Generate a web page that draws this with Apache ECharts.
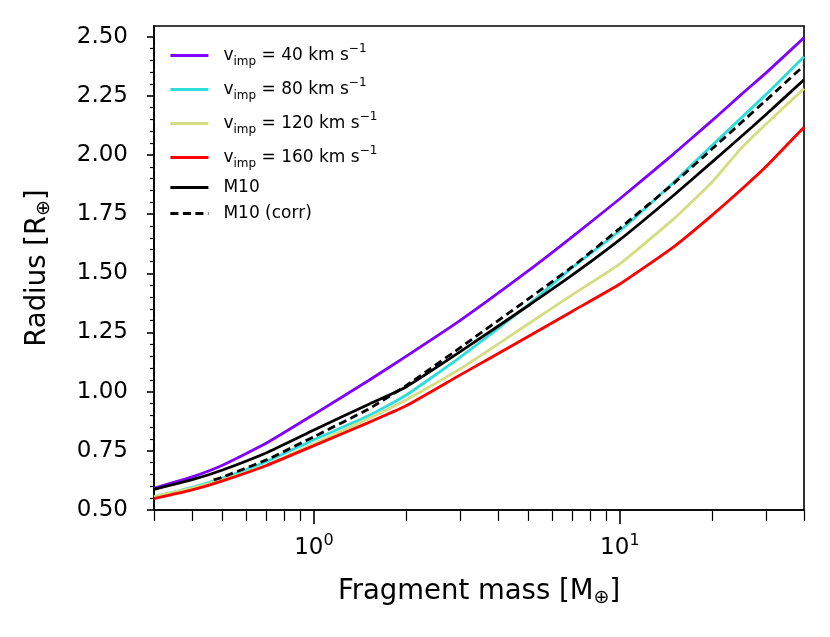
<!DOCTYPE html>
<html>
<head>
<meta charset="utf-8">
<script src="https://cdn.jsdelivr.net/npm/echarts@6.0.0/dist/echarts.min.js"></script>
<style>
  html, body { margin: 0; padding: 0; background: #fff; }
  #main { width: 830px; height: 637px; }
</style>
</head>
<body>
<div id="main"></div>
<script>
// fragment mass [M_earth] where the curves were read
const mass = [0.3, 0.4, 0.5, 0.7, 1, 1.5, 2, 3, 5, 7, 10, 15, 20, 25, 30, 40];
// radius [R_earth] for each impact speed
const radius40 = [0.592, 0.640, 0.688, 0.783, 0.904, 1.045, 1.149, 1.30, 1.509, 1.655, 1.815, 2.005, 2.145, 2.257, 2.346, 2.495];
const radius80 = [0.556, 0.596, 0.634, 0.705, 0.797, 0.897, 0.985, 1.145, 1.365, 1.525, 1.68, 1.885, 2.04, 2.158, 2.255, 2.415];
const radius120 = [0.556, 0.592, 0.627, 0.69, 0.78, 0.885, 0.965, 1.095, 1.285, 1.41, 1.54, 1.73, 1.885, 2.03, 2.13, 2.28];
const radius160 = [0.548, 0.585, 0.622, 0.688, 0.772, 0.868, 0.94, 1.07, 1.232, 1.34, 1.455, 1.612, 1.745, 1.855, 1.95, 2.117];
// M10 relation
const radiusM10 = [0.587, 0.628, 0.668, 0.742, 0.838, 0.945, 1.02, 1.168, 1.362, 1.493, 1.642, 1.83, 1.97, 2.079, 2.17, 2.318];
// M10 (corr) starts a bit later
const corrMass = [0.47, 0.5, 0.7, 1, 1.5, 2, 3, 5, 7, 10, 15, 20, 25, 30, 40];
const radiusM10corr = [0.627, 0.638, 0.712, 0.81, 0.925, 1.025, 1.185, 1.39, 1.528, 1.69, 1.88, 2.025, 2.138, 2.23, 2.378];

const speeds = [40, 80, 120, 160];
const speedColors = ['#8000ff', '#2bdddd', '#d4dd80', '#ff0000'];

// ticks
const majorTickMass = [1, 10];
const minorTickMass = [0.3, 0.4, 0.5, 0.6, 0.7, 0.8, 0.9, 2, 3, 4, 5, 6, 7, 8, 9, 20, 30, 40];
const yTicks = [0.5, 0.75, 1.0, 1.25, 1.5, 1.75, 2.0, 2.25, 2.5];
const yMin = 0.5, yMax = 2.545;
const xMin = 0.3, xMax = 40;

// minor y ticks every 0.05 between the labelled ones
const yMinorTicks = [];
for (let i = 0; i < yTicks.length - 1; i++) {
  for (let k = 1; k < 5; k++) yMinorTicks.push(+(yTicks[i] + k * 0.05).toFixed(2));
}

const FONT = 'DejaVu Sans';
const LW = 2.8;
const pairs = (xs, ys) => xs.map((x, i) => [x, ys[i]]);

const legendText = {
  M10: 'M10',
  M10corr: 'M10 (corr)'
};
speeds.forEach(s => {
  legendText['v' + s] = '{n|v}{sub|imp}{n| = ' + s + ' km s}{sup|\u22121}';
});

const series = speeds.map((s, i) => ({
  name: 'v' + s,
  type: 'line',
  data: pairs(mass, [radius40, radius80, radius120, radius160][i]),
  symbol: 'none',
  smooth: 0.15,
  lineStyle: { color: speedColors[i], width: LW },
  itemStyle: { color: speedColors[i] }
}));
series.push({
  name: 'M10',
  type: 'line',
  data: pairs(mass, radiusM10),
  symbol: 'none',
  smooth: 0.15,
  lineStyle: { color: '#000', width: LW },
  itemStyle: { color: '#000' }
});
series.push({
  name: 'M10corr',
  type: 'line',
  data: pairs(corrMass, radiusM10corr),
  symbol: 'none',
  smooth: 0.15,
  lineStyle: { color: '#000', width: LW, type: [8, 4.5] },
  itemStyle: { color: '#000' }
});

// helper log axes only carrying tick marks
function tickAxisX(values, len, width) {
  return {
    type: 'log',
    logBase: 10,
    min: xMin, max: xMax,
    position: 'bottom', offset: 0,
    axisLine: { show: false, onZero: false },
    axisLabel: { show: false },
    splitLine: { show: false },
    axisTick: { show: true, length: len, customValues: values, lineStyle: { color: '#000', width: width } }
  };
}

const chart = echarts.init(document.getElementById('main'));

chart.setOption({
  animation: false,
  backgroundColor: '#fff',
  textStyle: { fontFamily: FONT },
  grid: {
    left: 154, right: 26, top: 26, bottom: 127,
    show: true, borderColor: '#000', borderWidth: 1.6, backgroundColor: 'transparent'
  },
  legend: {
    orient: 'vertical',
    left: 164,
    top: 38,
    itemWidth: 38,
    itemHeight: 14,
    itemGap: 9,
    data: ['v40', 'v80', 'v120', 'v160', 'M10', 'M10corr'],
    formatter: name => legendText[name],
    itemStyle: { opacity: 0 },
    lineStyle: { width: LW },
    textStyle: {
      fontFamily: FONT,
      fontSize: 17,
      lineHeight: 14,
      color: '#000',
      padding: [0, 0, 0, 10],
      rich: {
        n: { fontFamily: FONT, fontSize: 17, lineHeight: 25, color: '#000' },
        sub: { fontFamily: FONT, fontSize: 12, lineHeight: 14, verticalAlign: 'bottom', color: '#000' },
        sup: { fontFamily: FONT, fontSize: 12, lineHeight: 14, verticalAlign: 'top', color: '#000' }
      }
    }
  },
  xAxis: [
    {
      type: 'log',
      logBase: 10,
      min: xMin,
      max: xMax,
      position: 'bottom',
      name: 'Fragment mass [M{s|\u2295}]',
      nameLocation: 'middle',
      nameGap: 66,
      nameTextStyle: {
        fontFamily: FONT, fontSize: 27.5, lineHeight: 32, color: '#000',
        rich: { s: { fontFamily: FONT, fontSize: 19, lineHeight: 20, verticalAlign: 'bottom', color: '#000' } }
      },
      axisLine: { show: true, onZero: false, lineStyle: { color: '#000', width: 1.6 } },
      axisTick: { show: false },
      splitLine: { show: false },
      axisLabel: {
        margin: 23,
        customValues: majorTickMass,
        formatter: v => '{b|10}{p|' + Math.round(Math.log10(v)) + '}',
        rich: {
          b: { fontFamily: FONT, fontSize: 23, lineHeight: 30, color: '#000' },
          p: { fontFamily: FONT, fontSize: 16, lineHeight: 16, verticalAlign: 'top', color: '#000' }
        }
      }
    },
    tickAxisX(majorTickMass, 14, 1.6),
    tickAxisX(minorTickMass, 11, 1.2)
  ],
  yAxis: [
    {
      type: 'value',
      min: yMin,
      max: yMax,
      position: 'left',
      name: 'Radius [R{s|\u2295}]',
      nameLocation: 'middle',
      nameGap: 100,
      nameTextStyle: {
        fontFamily: FONT, fontSize: 27.5, lineHeight: 32, color: '#000',
        rich: { s: { fontFamily: FONT, fontSize: 19, lineHeight: 20, verticalAlign: 'bottom', color: '#000' } }
      },
      axisLine: { show: true, onZero: false, lineStyle: { color: '#000', width: 1.6 } },
      axisTick: { show: true, length: 7, customValues: yTicks, lineStyle: { color: '#000', width: 1.6 } },
      splitLine: { show: false },
      axisLabel: {
        margin: 26,
        customValues: yTicks,
        formatter: v => v.toFixed(2),
        fontFamily: FONT,
        fontSize: 23,
        color: '#000'
      }
    },
    {
      type: 'value',
      min: yMin,
      max: yMax,
      position: 'left', offset: 0,
      axisLine: { show: false, onZero: false },
      axisLabel: { show: false },
      splitLine: { show: false },
      axisTick: { show: true, length: 4, customValues: yMinorTicks, lineStyle: { color: '#000', width: 1.2 } }
    }
  ],
  series: series
});
</script>
</body>
</html>
